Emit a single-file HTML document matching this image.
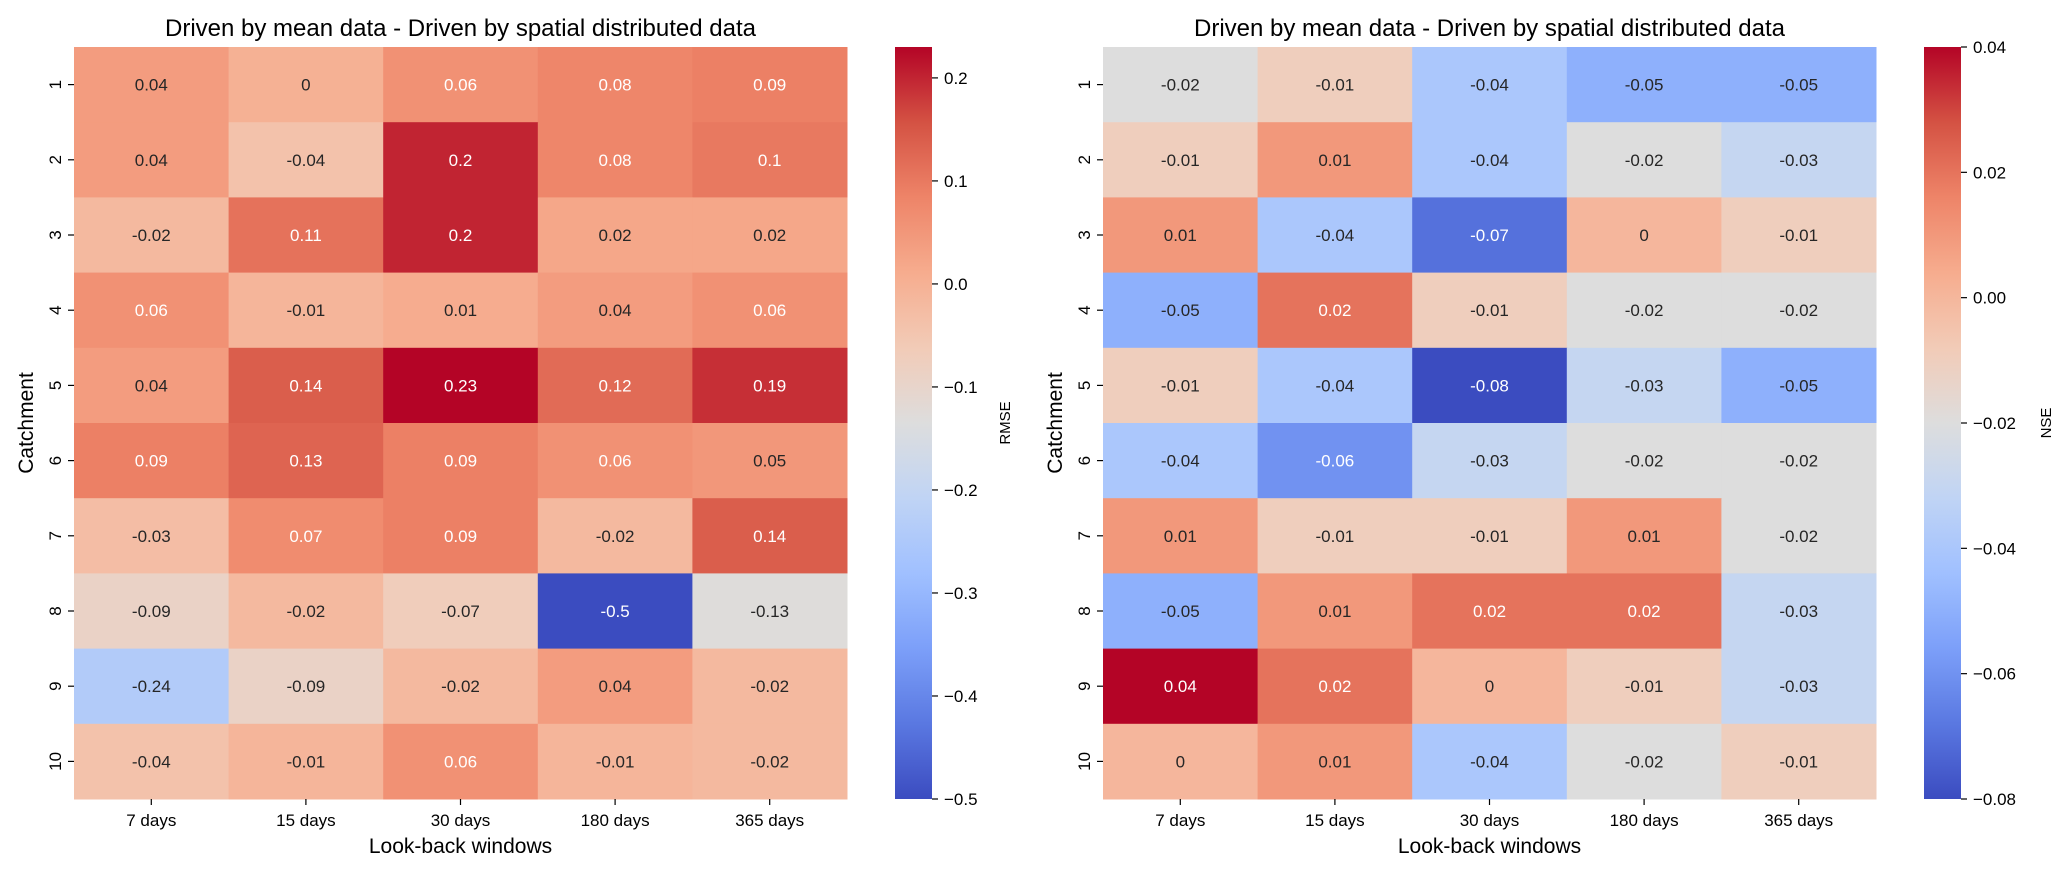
<!DOCTYPE html>
<html><head><meta charset="utf-8"><style>
html,body{margin:0;padding:0;background:#fff}
svg{display:block;font-family:"Liberation Sans","DejaVu Sans",sans-serif}
</style></head><body>
<svg id="chart" width="2067" height="873" viewBox="0 0 2067 873" xmlns="http://www.w3.org/2000/svg"></svg>
<script>
const categories = ["7 days","15 days","30 days","180 days","365 days"];
const catchments = ["1","2","3","4","5","6","7","8","9","10"];
const rmseValues = [
 [0.04,0,0.06,0.08,0.09],
 [0.04,-0.04,0.2,0.08,0.1],
 [-0.02,0.11,0.2,0.02,0.02],
 [0.06,-0.01,0.01,0.04,0.06],
 [0.04,0.14,0.23,0.12,0.19],
 [0.09,0.13,0.09,0.06,0.05],
 [-0.03,0.07,0.09,-0.02,0.14],
 [-0.09,-0.02,-0.07,-0.5,-0.13],
 [-0.24,-0.09,-0.02,0.04,-0.02],
 [-0.04,-0.01,0.06,-0.01,-0.02]
];
const nseValues = [
 [-0.02,-0.01,-0.04,-0.05,-0.05],
 [-0.01,0.01,-0.04,-0.02,-0.03],
 [0.01,-0.04,-0.07,0,-0.01],
 [-0.05,0.02,-0.01,-0.02,-0.02],
 [-0.01,-0.04,-0.08,-0.03,-0.05],
 [-0.04,-0.06,-0.03,-0.02,-0.02],
 [0.01,-0.01,-0.01,0.01,-0.02],
 [-0.05,0.01,0.02,0.02,-0.03],
 [0.04,0.02,0,-0.01,-0.03],
 [0,0.01,-0.04,-0.02,-0.01]
];
const rmseTicks = [0.2,0.1,0.0,-0.1,-0.2,-0.3,-0.4,-0.5];
const rmseTickLabels = ["0.2","0.1","0.0","\u22120.1","\u22120.2","\u22120.3","\u22120.4","\u22120.5"];
const nseTicks = [0.04,0.02,0.0,-0.02,-0.04,-0.06,-0.08];
const nseTickLabels = ["0.04","0.02","0.00","\u22120.02","\u22120.04","\u22120.06","\u22120.08"];

const NS="http://www.w3.org/2000/svg";
const svg=document.getElementById('chart');
const stops=[[59,76,192],[90,120,225],[124,159,249],[160,192,255],[192,212,245],[221,221,221],[242,203,183],[246,172,142],[238,132,104],[212,82,67],[180,4,38]];
function cmap(t){t=Math.max(0,Math.min(1,t));const p=t*10,i=Math.min(9,Math.floor(p)),f=p-i;const a=stops[i],b=stops[i+1];return a.map((v,k)=>Math.round(v+(b[k]-v)*f));}
function lum(c){const l=c.map(v=>{v/=255;return v<=0.03928?v/12.92:Math.pow((v+0.055)/1.055,2.4)});return 0.2126*l[0]+0.7152*l[1]+0.0722*l[2];}
function el(tag,attrs,parent){const e=document.createElementNS(NS,tag);for(const k in attrs)e.setAttribute(k,attrs[k]);(parent||svg).appendChild(e);return e;}

function heatmap(opt){
 const g=el('g',{});
 
 
 const x0=opt.x,y0=47,w=773,h=752,cw=w/categories.length,rh=h/catchments.length;
 const xScale=i=>x0+i*cw, yScale=j=>y0+j*rh;
 const cy=v=>y0+(opt.vmax-v)/(opt.vmax-opt.vmin)*h;
 const norm=v=>(v-opt.vmin)/(opt.vmax-opt.vmin);
 opt.data.forEach((row,j)=>row.forEach((v,i)=>{
  const c=cmap(norm(v));
  const r=el('rect',{x:xScale(i),y:yScale(j),width:cw+0.5,height:rh+0.5,fill:`rgb(${c})`},g);
  
  
  const t=el('text',{x:xScale(i)+cw/2,y:yScale(j)+rh/2+6,'text-anchor':'middle','font-size':17,fill:lum(c)>0.408?'#262626':'#fff'},g);
  t.textContent=String(v);
  
  
 }));
 catchments.forEach((c,j)=>{
  const yy=yScale(j)+rh/2;
  el('line',{x1:x0-6,x2:x0,y1:yy,y2:yy,stroke:'#000','stroke-width':1.2},g);
  const t=el('text',{x:0,y:0,transform:`translate(${x0-13},${yy}) rotate(-90)`,'text-anchor':'middle','font-size':17},g);
  t.textContent=c;
  
  
 });
 categories.forEach((c,i)=>{
  const xx=xScale(i)+cw/2;
  el('line',{x1:xx,x2:xx,y1:y0+h,y2:y0+h+6,stroke:'#000','stroke-width':1.2},g);
  const t=el('text',{x:xx,y:y0+h+27,'text-anchor':'middle','font-size':17},g);
  t.textContent=c;
  
  
 });
 let t=el('text',{x:x0+w/2,y:36,'text-anchor':'middle','font-size':24},g);
 t.textContent='Driven by mean data - Driven by spatial distributed data';
 
 
 t=el('text',{x:x0+w/2,y:853,'text-anchor':'middle','font-size':21},g);
 t.textContent='Look-back windows';
 
 
 t=el('text',{x:0,y:0,transform:`translate(${x0-41},${y0+h/2}) rotate(-90)`,'text-anchor':'middle','font-size':21},g);
 t.textContent='Catchment';
 
 
 const cb=el('g',{},g);
 
 
 const bx=x0+821,bw=37;
 const gid='grad'+opt.name;
 const grad=el('linearGradient',{id:gid,x1:0,y1:1,x2:0,y2:0},el('defs',{},cb));
 for(let k=0;k<=20;k++){el('stop',{offset:k/20,'stop-color':`rgb(${cmap(k/20)})`},grad);}
 el('rect',{x:bx,y:y0,width:bw,height:h,fill:`url(#${gid})`},cb);
 opt.ticks.forEach((v,k)=>{
  const yy=cy(v);
  el('line',{x1:bx+bw,x2:bx+bw+6,y1:yy,y2:yy,stroke:'#000','stroke-width':1.2},cb);
  const tt=el('text',{x:bx+bw+12,y:yy+6,'font-size':17},cb);
  tt.textContent=opt.tickLabels[k];
  
  
 });
 t=el('text',{x:0,y:0,transform:`translate(${opt.labelX},${y0+h/2}) rotate(-90)`,'text-anchor':'middle','font-size':15},cb);
 t.textContent=opt.label;
 
 
}
heatmap({name:'rmse-heatmap',x:74,data:rmseValues,vmin:-0.5,vmax:0.23,ticks:rmseTicks,tickLabels:rmseTickLabels,label:'RMSE',labelX:1010});
heatmap({name:'nse-heatmap',x:1103,data:nseValues,vmin:-0.08,vmax:0.04,ticks:nseTicks,tickLabels:nseTickLabels,label:'NSE',labelX:2051});
</script>
</body></html>
